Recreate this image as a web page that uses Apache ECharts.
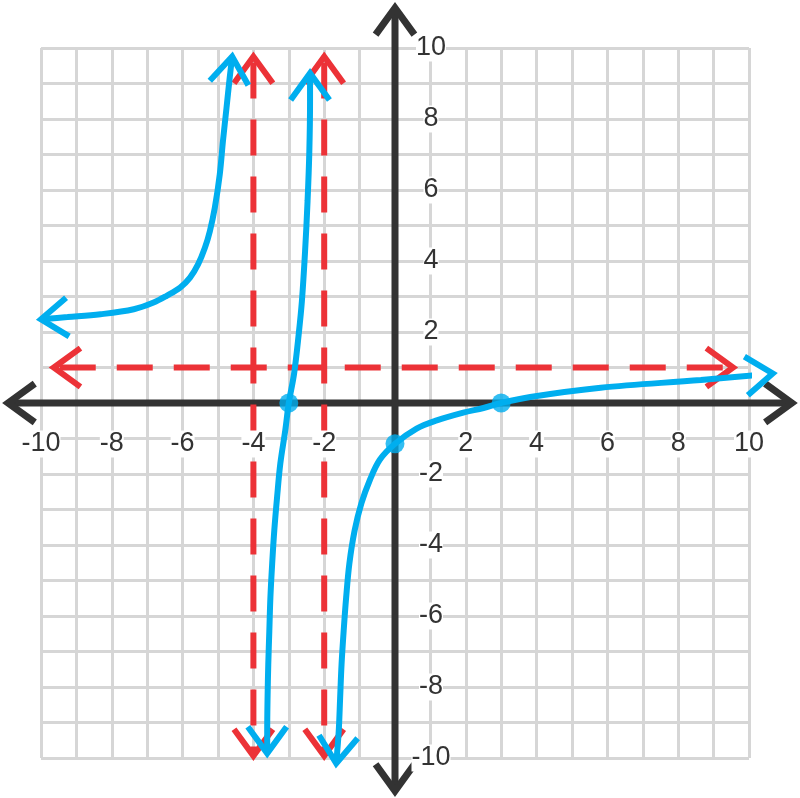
<!DOCTYPE html>
<html><head><meta charset="utf-8">
<script src="https://cdn.jsdelivr.net/npm/echarts@6/dist/echarts.min.js"></script>
<style>html,body{margin:0;padding:0;background:#fff}#c{width:800px;height:798px}</style>
</head><body><div id="c"></div>
<script>
// ---- data ----
const xTickLabels = [-10, -8, -6, -4, -2, 2, 4, 6, 8, 10];
const yTickLabels = [-10, -8, -6, -4, -2, 2, 4, 6, 8, 10];
const axisExtentX = [-10.93, 11.21];   // x-axis arrow tips (data units)
const axisExtentY = [-10.93, 11.13];   // y-axis arrow tips
const asymptotesX = [-4, -2];          // vertical asymptotes
const asymptoteY = [1];                // horizontal asymptote
const asymVExtent = [-9.94, 9.76];
const asymHExtent = [-9.64, 9.55];
const branchLeft = [[-10.0,2.36],[-9.25,2.42],[-8.32,2.50],[-7.38,2.64],[-6.82,2.83],[-6.45,3.02],[-6.07,3.25],[-5.79,3.53],[-5.56,3.91],[-5.37,4.37],[-5.23,4.84],[-5.09,5.50],[-4.95,6.44],[-4.86,7.38],[-4.76,8.31],[-4.67,9.16],[-4.60,9.76]];
const branchMiddle = [[-3.61,-9.87],[-3.61,-9.25],[-3.60,-8.31],[-3.58,-7.37],[-3.55,-6.42],[-3.52,-5.48],[-3.47,-4.53],[-3.41,-3.59],[-3.33,-2.64],[-3.24,-1.71],[-3.10,-0.77],[-3.0,0],[-2.85,0.83],[-2.72,1.94],[-2.63,2.87],[-2.54,4.28],[-2.47,5.69],[-2.42,7.09],[-2.40,8.50],[-2.40,9.29]];
const branchRight = [[-1.66,-10.15],[-1.59,-9.25],[-1.55,-8.31],[-1.51,-7.37],[-1.45,-6.42],[-1.38,-5.48],[-1.29,-4.53],[-1.14,-3.59],[-0.95,-2.83],[-0.71,-2.17],[-0.43,-1.60],[0,-1.15],[0.61,-0.72],[1.18,-0.49],[1.93,-0.27],[2.50,-0.14],[3.0,0],[3.82,0.17],[5.81,0.43],[8.64,0.65],[10.67,0.83]];
const keyPoints = [[-3, 0], [0, -1.15], [3, 0]];

// ---- styles ----
const BLUE = '#00aeef', RED = '#ec3237', BLACK = '#333333', GRID = '#d6d6d6';
const ARM = 33, HALF = 36 * Math.PI / 180;

function chevron(tip, from) {
  const dx = tip[0] - from[0], dy = tip[1] - from[1];
  const len = Math.hypot(dx, dy) || 1;
  const ux = -dx / len, uy = -dy / len;
  const c = Math.cos(HALF), s = Math.sin(HALF);
  return [
    [tip[0] + ARM * (ux * c - uy * s), tip[1] + ARM * (ux * s + uy * c)],
    [tip[0], tip[1]],
    [tip[0] + ARM * (ux * c + uy * s), tip[1] + ARM * (-ux * s + uy * c)]
  ];
}

function arrowLineRenderer(color, width, dashed) {
  return function (params, api) {
    const p1 = api.coord([api.value(0), api.value(1)]);
    const p2 = api.coord([api.value(2), api.value(3)]);
    const lineStyle = { stroke: color, lineWidth: width, fill: 'none' };
    if (dashed) { lineStyle.lineDash = [36, 21]; lineStyle.lineDashOffset = 51; }
    const headStyle = { stroke: color, lineWidth: width, fill: 'none', lineJoin: 'miter', lineCap: 'butt' };
    return {
      type: 'group',
      children: [
        { type: 'line', shape: { x1: p1[0], y1: p1[1], x2: p2[0], y2: p2[1] }, style: lineStyle },
        { type: 'polyline', shape: { points: chevron(p1, p2) }, style: headStyle },
        { type: 'polyline', shape: { points: chevron(p2, p1) }, style: headStyle }
      ]
    };
  };
}

function headRenderer(color, width) {
  return function (params, api) {
    const tip = api.coord([api.value(0), api.value(1)]);
    const prev = api.coord([api.value(2), api.value(3)]);
    return { type: 'polyline', shape: { points: chevron(tip, prev) },
      style: { stroke: color, lineWidth: width, fill: 'none', lineJoin: 'miter', lineCap: 'butt' } };
  };
}

const axesData = [
  [axisExtentX[0], 0, axisExtentX[1], 0],
  [0, axisExtentY[0], 0, axisExtentY[1]]
];
const asymData = asymptotesX.map(x => [x, asymVExtent[1], x, asymVExtent[0]])
  .concat(asymptoteY.map(y => [asymHExtent[0], y, asymHExtent[1], y]));
const branches = [branchLeft, branchMiddle, branchRight];
const headData = [];
branches.forEach(b => {
  headData.push([b[0][0], b[0][1], b[1][0], b[1][1]]);
  const n = b.length;
  headData.push([b[n - 1][0], b[n - 1][1], b[n - 2][0], b[n - 2][1]]);
});

const evenLabel = v => (xTickLabels.indexOf(v) >= 0) ? String(v) : '';
const evenLabelY = v => (yTickLabels.indexOf(v) >= 0) ? String(v) : '';
const labelFont = { fontSize: 27, color: BLACK, fontFamily: 'Liberation Sans, Arial, sans-serif' };

const GL = 41, GT = 48, GW = 708, GH = 710;
const gridRect = { left: GL, top: GT, width: GW, height: GH };
const baseAxis = { type: 'value', min: -10, max: 10, interval: 1 };

const option = {
  animation: false,
  backgroundColor: '#fff',
  grid: [Object.assign({}, gridRect), Object.assign({}, gridRect)],
  xAxis: [
    Object.assign({}, baseAxis, { gridIndex: 0, axisLine: { show: false }, axisTick: { show: false }, axisLabel: { show: false },
      splitLine: { show: true, showMinLine: true, showMaxLine: true, lineStyle: { color: GRID, width: 3 } } }),
    Object.assign({}, baseAxis, { gridIndex: 1, z: 20, position: 'bottom', offset: -GH / 2,
      axisLine: { show: false, onZero: false }, axisTick: { show: false }, splitLine: { show: false },
      axisLabel: Object.assign({ show: true, margin: 41, verticalAlign: 'middle', formatter: evenLabel, backgroundColor: '#fff', padding: 0 }, labelFont) })
  ],
  yAxis: [
    Object.assign({}, baseAxis, { gridIndex: 0, axisLine: { show: false }, axisTick: { show: false }, axisLabel: { show: false },
      splitLine: { show: true, showMinLine: true, showMaxLine: true, lineStyle: { color: GRID, width: 3 } } }),
    Object.assign({}, baseAxis, { gridIndex: 1, z: 20, position: 'left', offset: -GW / 2,
      axisLine: { show: false, onZero: false }, axisTick: { show: false }, splitLine: { show: false },
      axisLabel: Object.assign({ show: true, inside: true, align: 'center', margin: 36, formatter: evenLabelY, backgroundColor: '#fff', padding: 0 }, labelFont) })
  ],
  series: [
    { type: 'custom', name: 'axes', xAxisIndex: 0, yAxisIndex: 0, z: 2, silent: true, clip: false,
      renderItem: arrowLineRenderer(BLACK, 7, false), data: axesData },
    { type: 'custom', name: 'asymptotes', xAxisIndex: 0, yAxisIndex: 0, z: 3, silent: true, clip: false,
      renderItem: arrowLineRenderer(RED, 6, true), data: asymData },
    { type: 'line', name: 'left', data: branchLeft, showSymbol: false, smooth: 0.35, clip: false, z: 4, silent: true,
      lineStyle: { color: BLUE, width: 6 } },
    { type: 'line', name: 'middle', data: branchMiddle, showSymbol: false, smooth: 0.35, clip: false, z: 4, silent: true,
      lineStyle: { color: BLUE, width: 6 } },
    { type: 'line', name: 'right', data: branchRight, showSymbol: false, smooth: 0.35, clip: false, z: 4, silent: true,
      lineStyle: { color: BLUE, width: 6 } },
    { type: 'custom', name: 'heads', xAxisIndex: 0, yAxisIndex: 0, z: 5, silent: true, clip: false,
      renderItem: headRenderer(BLUE, 6), data: headData },
    { type: 'scatter', name: 'points', data: keyPoints, symbolSize: 19, itemStyle: { color: BLUE }, z: 6, silent: true }
  ]
};

const chart = echarts.init(document.getElementById('c'), null, { renderer: 'canvas' });
chart.setOption(option);
</script>
</body></html>
